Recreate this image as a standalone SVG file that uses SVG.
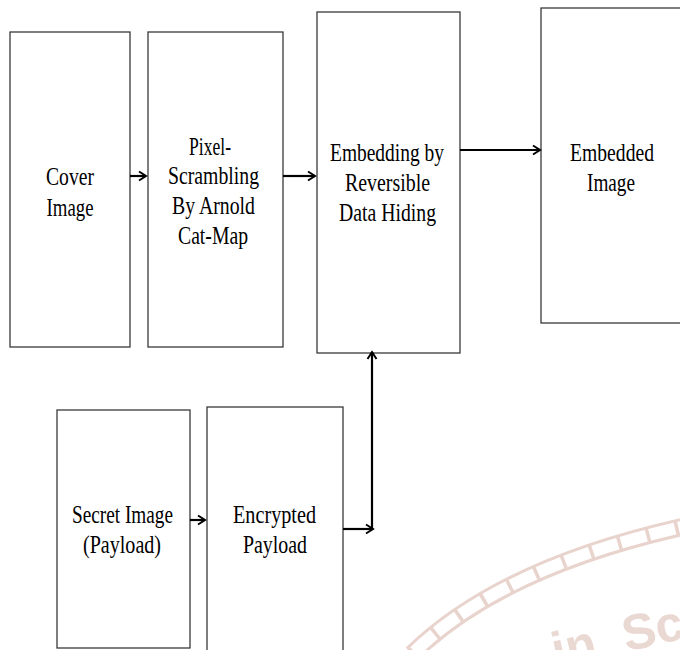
<svg xmlns="http://www.w3.org/2000/svg" width="680" height="650" viewBox="0 0 680 650">
<style>
.box{fill:#fff;stroke:#3a3a3a;stroke-width:1.3}
.lbl{font-family:"Liberation Serif","Times New Roman",serif;font-size:25px;fill:#000;text-anchor:middle}
.con{fill:none;stroke:#000;stroke-width:2.2}
.wm{fill:none;stroke:#e8d3cd}
</style>
<defs>
<marker id="ah" markerUnits="userSpaceOnUse" markerWidth="12" markerHeight="12" refX="9" refY="6" orient="auto">
<path d="M2,1.5 L9,6 L2,10.5" fill="none" stroke="#000" stroke-width="2"/>
</marker>
</defs>
<rect width="680" height="650" fill="#fff"/>

<g id="watermark">
<path class="wm" d="M412,654 Q500,568 682,527" stroke-width="18"/>
<path d="M412,654 Q500,568 682,527" fill="none" stroke="#fff" stroke-width="12"/>
<path class="wm" d="M412,654 Q500,568 682,527" stroke-width="14" stroke-dasharray="3.5 26"/>
<text x="556" y="668" transform="rotate(-13 556 668)" font-family="Liberation Sans, Arial, sans-serif" font-size="50" font-weight="bold" fill="#ead8d2" word-spacing="14">in Sc</text>
</g>

<g id="cover">
<rect class="box" x="10" y="32" width="120" height="315"/>
<text class="lbl" x="70" y="185" textLength="48" lengthAdjust="spacingAndGlyphs">Cover</text>
<text class="lbl" x="70" y="216" textLength="47" lengthAdjust="spacingAndGlyphs">Image</text>
</g>

<g id="scramble">
<rect class="box" x="148" y="32" width="135" height="315"/>
<text class="lbl" x="210" y="155" textLength="42" lengthAdjust="spacingAndGlyphs">Pixel-</text>
<text class="lbl" x="213.5" y="184" textLength="91" lengthAdjust="spacingAndGlyphs">Scrambling</text>
<text class="lbl" x="213.5" y="214" textLength="83" lengthAdjust="spacingAndGlyphs">By Arnold</text>
<text class="lbl" x="213" y="244" textLength="70" lengthAdjust="spacingAndGlyphs">Cat-Map</text>
</g>

<g id="embedding">
<rect class="box" x="317" y="12" width="143" height="341"/>
<text class="lbl" x="387" y="161" textLength="114" lengthAdjust="spacingAndGlyphs">Embedding by</text>
<text class="lbl" x="387.5" y="191" textLength="85" lengthAdjust="spacingAndGlyphs">Reversible</text>
<text class="lbl" x="387.5" y="221" textLength="97" lengthAdjust="spacingAndGlyphs">Data Hiding</text>
</g>

<g id="embedded">
<rect class="box" x="541" y="8" width="160" height="315"/>
<text class="lbl" x="612" y="161" textLength="84" lengthAdjust="spacingAndGlyphs">Embedded</text>
<text class="lbl" x="611" y="191" textLength="48" lengthAdjust="spacingAndGlyphs">Image</text>
</g>

<g id="secret">
<rect class="box" x="57" y="410" width="133" height="238"/>
<text class="lbl" x="122.5" y="523" textLength="101" lengthAdjust="spacingAndGlyphs">Secret Image</text>
<text class="lbl" x="122" y="553" textLength="78" lengthAdjust="spacingAndGlyphs">(Payload)</text>
</g>

<g id="encrypted">
<rect class="box" x="207" y="407" width="136" height="260"/>
<text class="lbl" x="274.5" y="523" textLength="83" lengthAdjust="spacingAndGlyphs">Encrypted</text>
<text class="lbl" x="275" y="553" textLength="64" lengthAdjust="spacingAndGlyphs">Payload</text>
</g>

<g id="connectors">
<path class="con" d="M130,176 H146" marker-end="url(#ah)"/>
<path class="con" d="M283,176 H315" marker-end="url(#ah)"/>
<path class="con" d="M460,150 H540" marker-end="url(#ah)"/>
<path class="con" d="M190,520 H205" marker-end="url(#ah)"/>
<path class="con" d="M343,529 H373" marker-end="url(#ah)"/>
<path class="con" d="M372,529 V352" marker-end="url(#ah)"/>
</g>
</svg>
